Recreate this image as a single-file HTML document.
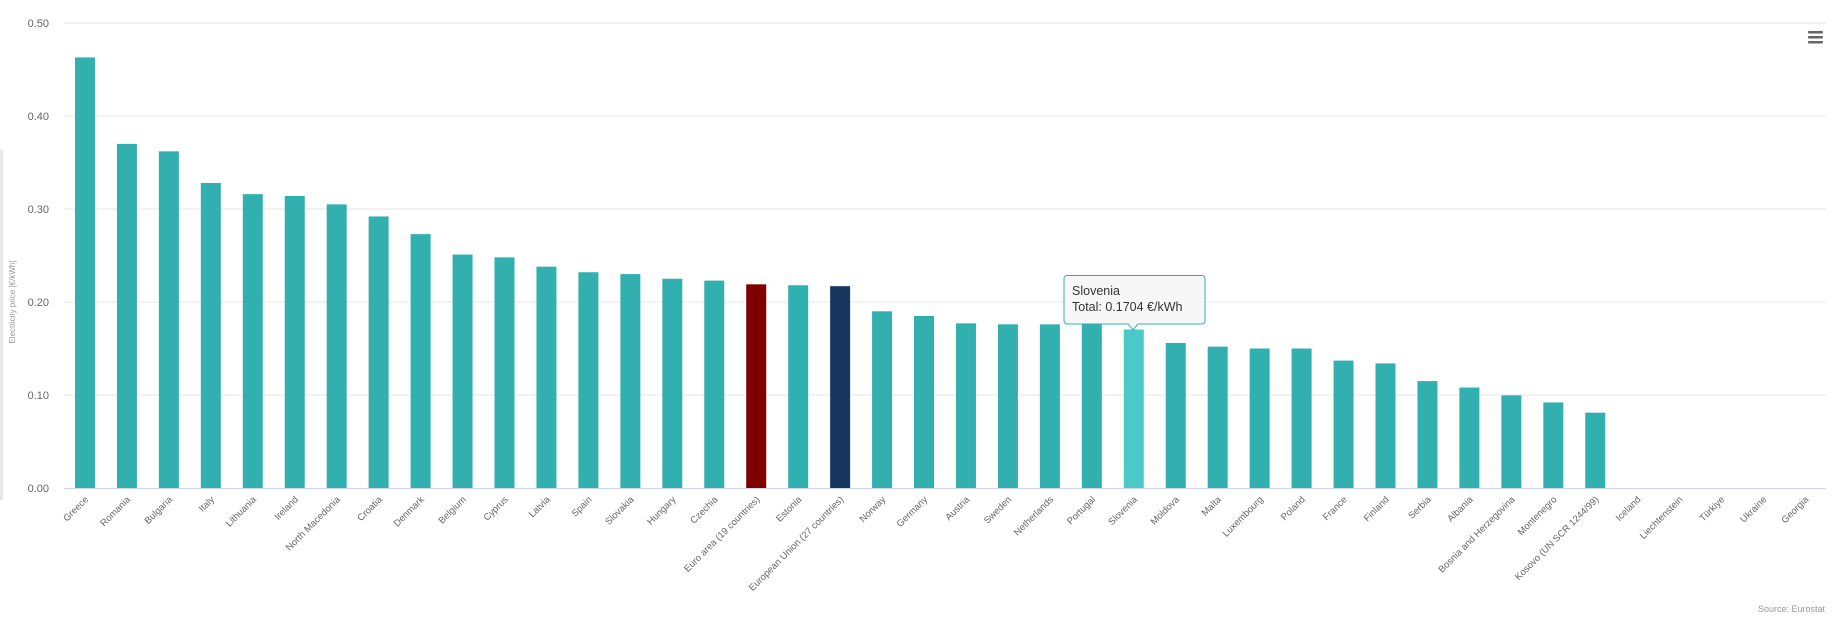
<!DOCTYPE html>
<html><head><meta charset="utf-8"><style>
html,body{margin:0;padding:0;background:#fff;width:1835px;height:622px;overflow:hidden}
svg{display:block;font-family:"Liberation Sans",sans-serif}
</style></head><body>
<svg id="c" width="1835" height="622" xmlns="http://www.w3.org/2000/svg"></svg>
<script>
var d=[["Greece",.463],["Romania",.370],["Bulgaria",.362],["Italy",.328],["Lithuania",.316],["Ireland",.314],["North Macedonia",.305],["Croatia",.292],["Denmark",.273],["Belgium",.251],["Cyprus",.248],["Latvia",.238],["Spain",.232],["Slovakia",.230],["Hungary",.225],["Czechia",.223],["Euro area (19 countries)",.219],["Estonia",.218],["European Union (27 countries)",.217],["Norway",.190],["Germany",.185],["Austria",.177],["Sweden",.176],["Netherlands",.176],["Portugal",.176],["Slovenia",.1704],["Moldova",.156],["Malta",.152],["Luxembourg",.150],["Poland",.150],["France",.137],["Finland",.134],["Serbia",.115],["Albania",.108],["Bosnia and Herzegovina",.0996],["Montenegro",.092],["Kosovo (UN SCR 1244/99)",.081],["Iceland",0],["Liechtenstein",0],["Türkiye",0],["Ukraine",0],["Georgia",0]];
var L=64,R=1826,Y0=488,K=930,w=(R-L)/42,s='';
s+='<rect x="0" y="150" width="3" height="350" fill="#e8e8e8"/>';
for(var i=0;i<=5;i++){var y=Y0-i*0.1*K;
 if(i>0)s+='<line x1="'+L+'" x2="'+R+'" y1="'+y+'" y2="'+y+'" stroke="#e6e6e6"/>';
 s+='<text x="49" y="'+(y+4)+'" text-anchor="end" font-size="11" fill="#666">'+(i/10).toFixed(2)+'</text>';}
s+='<text transform="translate(15,302) rotate(-90)" text-anchor="middle" font-size="8" fill="#999">Electricity price [€/kWh]</text>';
d.forEach(function(e,i){var cx=L+w*i+w/2,h=e[1]*K;
 var col=i==16?'#800000':i==18?'#17375e':i==25?'#4bc8c8':'#32b0b0';
 if(h>0)s+='<rect x="'+(cx-10)+'" y="'+(Y0-h)+'" width="20" height="'+h+'" fill="'+col+'"/>';
 s+='<text transform="translate('+(cx+4)+',500) rotate(-45)" text-anchor="end" font-size="9.5" fill="#666">'+e[0].replace('(','(')+'</text>';});
s+='<line x1="'+L+'" x2="'+R+'" y1="'+(Y0+0.5)+'" y2="'+(Y0+0.5)+'" stroke="#ccd6eb"/>';
// tooltip
s+='<path d="M1067 275.5 H1202 a3 3 0 0 1 3 3 V321 a3 3 0 0 1 -3 3 H1138 L1133 330 L1128 324 H1067 a3 3 0 0 1 -3 -3 V278.5 a3 3 0 0 1 3 -3Z" fill="#f7f7f7" fill-opacity="0.95" stroke="#32b0b0"/>';
s+='<text x="1072" y="295" font-size="12.5" fill="#333">Slovenia</text>';
s+='<text x="1072" y="311" font-size="12.5" fill="#333">Total: 0.1704 €/kWh</text>';
// menu
for(var j=0;j<3;j++)s+='<rect x="1808" y="'+(31+j*5)+'" width="15" height="2.5" rx="1" fill="#666"/>';
s+='<text x="1825" y="612" text-anchor="end" font-size="9" fill="#999">Source: Eurostat</text>';
document.getElementById('c').innerHTML=s;
</script>
</body></html>
